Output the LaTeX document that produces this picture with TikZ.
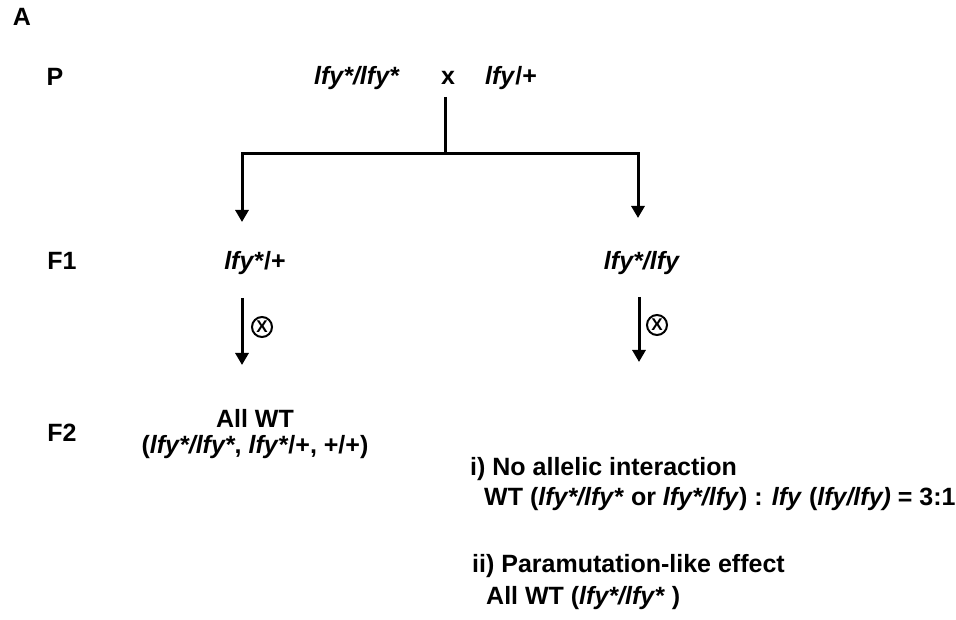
\documentclass[tikz,border=0pt]{standalone}
\usepackage{fontspec}
\setmainfont{Liberation Sans}
\usetikzlibrary{arrows.meta}

\begin{document}
\begin{tikzpicture}[x=1pt,y=-1pt,
    txt/.style={font=\fontsize{25}{29}\selectfont\bfseries, inner sep=0pt, anchor=base},
    res/.style={txt, anchor=base west},
    arr/.style={line width=3pt, -{Triangle[width=13pt,length=12pt]}},
    selfing/.style={circle, draw, line width=2pt, minimum size=20pt, inner sep=0pt,
      font=\fontsize{17}{17}\selectfont\bfseries}]
    %initialisation
    \useasboundingbox (0,0) rectangle (956,620);
    %generations
    \node[txt] (A) at (22,26) {A};
    \node[txt] (P) at (55,86) {P};
    \node[txt] (F1) at (62,270) {F1};
    \node[txt] (F2) at (62,441) {F2};
    %parents
    \node[txt] (mut) at (357,85) {\textit{lfy*/lfy*}};
    \node[txt] (cross) at (448,85) {x};
    \node[txt] (wt) at (511,85) {\textit{lfy}/+};
    %F1
    \node[txt] (hetA) at (255,270) {\textit{lfy*}/+};
    \node[txt] (hetB) at (642,270) {\textit{lfy*/lfy}};
    %F2
    \node[txt] (allwt) at (255,427) {All WT};
    \node[txt] (allgen) at (255,453) {(\textit{lfy*/lfy*}, \textit{lfy*}/+, +/+)};
    \node[res] (noint) at (470,475) {i) No allelic interaction};
    \node[res] (ratio) at (484,505) {WT (\textit{lfy*/lfy*} or \textit{lfy*/lfy}) : \textit{lfy} (\textit{lfy/lfy)} = 3:1};
    \node[res] (para) at (472,572) {ii) Paramutation-like effect};
    \node[res] (paragen) at (486,604) {All WT (\textit{lfy*/lfy*} )};
    %cross lines
    \coordinate (top) at (445,97);
    \coordinate (split) at (445,154);
    \coordinate (endA) at (242,222);
    \coordinate (endB) at (638,218);
    \draw[line width=3pt] (top) -- (split);
    \draw[arr] (split) -| (endA);
    \draw[arr] (split) -| (endB);
    %selfing
    \coordinate (sA1) at (242,298);
    \coordinate (sA2) at (242,365);
    \coordinate (sB1) at (639,297);
    \coordinate (sB2) at (639,362);
    \draw[arr] (sA1) -- (sA2);
    \draw[arr] (sB1) -- (sB2);
    \node[selfing] (selfA) at (262,327) {X};
    \node[selfing] (selfB) at (657,325) {X};
\end{tikzpicture}
\end{document}
